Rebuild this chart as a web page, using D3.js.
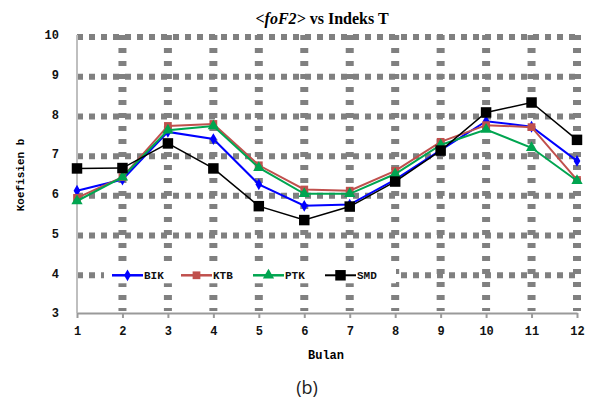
<!DOCTYPE html>
<html>
<head>
<meta charset="utf-8">
<script src="https://cdn.jsdelivr.net/npm/d3@7"></script>
<style>
  body { margin: 0; background: #fff; }
  svg { display: block; }
</style>
</head>
<body>
<script>
// data
const bulan = [1, 2, 3, 4, 5, 6, 7, 8, 9, 10, 11, 12];
const yTicks = [3, 4, 5, 6, 7, 8, 9, 10];
const BIK = [6.08, 6.36, 7.56, 7.38, 6.24, 5.70, 5.73, 6.36, 7.10, 7.83, 7.69, 6.83];
const KTB = [5.90, 6.42, 7.71, 7.76, 6.72, 6.11, 6.08, 6.58, 7.31, 7.73, 7.68, 6.35];
const PTK = [5.82, 6.42, 7.60, 7.71, 6.66, 6.00, 6.00, 6.50, 7.23, 7.62, 7.16, 6.33];
const SMD = [6.64, 6.65, 7.27, 6.64, 5.69, 5.34, 5.68, 6.31, 7.09, 8.05, 8.30, 7.36];

const series = [
  { name: "BIK", values: BIK, color: "#0000ff", marker: "diamond", width: 2 },
  { name: "KTB", values: KTB, color: "#c0504d", marker: "square", width: 2 },
  { name: "PTK", values: PTK, color: "#00a550", marker: "triangle", width: 2 },
  { name: "SMD", values: SMD, color: "#000000", marker: "bigsquare", width: 1.5 }
];

const W = 589, H = 405;
const svg = d3.select("body").append("svg").attr("width", W).attr("height", H);

const x = d3.scaleLinear().domain([1, 12]).range([77, 577]);
const y = d3.scaleLinear().domain([3, 10]).range([313, 35]);

const tickFont = "'Liberation Mono', 'DejaVu Sans Mono', monospace";

// grid - heavy grey dashes
const grid = svg.append("g");
grid.selectAll(".hg")
  .data(yTicks.filter(d => d > 3))
  .enter().append("line")
  .attr("x1", x(1)).attr("x2", x(12) + 4)
  .attr("y1", d => y(d) + 2).attr("y2", d => y(d) + 2)
  .attr("stroke", "#808080").attr("stroke-width", 6)
  .attr("stroke-dasharray", "6,6");
grid.selectAll(".vg")
  .data(bulan.filter(d => d > 1))
  .enter().append("line")
  .attr("x1", d => x(d)).attr("x2", d => x(d))
  .attr("y1", y(10)).attr("y2", y(3) - 2)
  .attr("stroke", "#808080").attr("stroke-width", 8)
  .attr("stroke-dasharray", "5,8");

// axes
svg.append("line")
  .attr("x1", x(1)).attr("x2", x(1)).attr("y1", y(10)).attr("y2", y(3))
  .attr("stroke", "#bfbfbf").attr("stroke-width", 2);
const xAxis = svg.append("g")
  .attr("transform", `translate(0,${y(3)})`)
  .call(d3.axisBottom(x).tickValues(bulan).tickFormat(d3.format("d")).tickSize(5).tickSizeOuter(0).tickPadding(8));
xAxis.select(".domain").attr("stroke", "#9a9a9a").attr("stroke-width", 2);
xAxis.selectAll(".tick line").attr("stroke", "#9a9a9a").attr("stroke-width", 2);
xAxis.selectAll("text").attr("font-family", tickFont).attr("font-weight", "bold")
  .attr("font-size", 12).attr("fill", "#111");

const yAxis = svg.append("g")
  .attr("transform", `translate(${x(1) - 18},0)`)
  .call(d3.axisLeft(y).tickValues(yTicks).tickFormat(d3.format("d")).tickSize(0).tickPadding(0));
yAxis.select(".domain").remove();
yAxis.selectAll("text").attr("font-family", tickFont).attr("font-weight", "bold")
  .attr("font-size", 12).attr("fill", "#111");

// lines
const line = d3.line().x((d, i) => x(bulan[i])).y(d => y(d));
const symbolFor = m => {
  if (m === "diamond") return d3.symbol().type(d3.symbolDiamond).size(40);
  if (m === "square") return d3.symbol().type(d3.symbolSquare).size(60);
  if (m === "triangle") return d3.symbol().type(d3.symbolTriangle).size(55);
  return d3.symbol().type(d3.symbolSquare).size(110);
};

series.forEach(s => {
  svg.append("path").datum(s.values)
    .attr("d", line).attr("fill", "none")
    .attr("stroke", s.color).attr("stroke-width", s.width);
  svg.selectAll(null).data(s.values).enter().append("path")
    .attr("d", symbolFor(s.marker)())
    .attr("transform", (d, i) => `translate(${x(bulan[i])},${y(d)})`)
    .attr("fill", s.color);
});

// legend
const leg = svg.append("g").attr("transform", `translate(0,${y(4) + 2})`);
leg.append("rect").attr("x", 104).attr("y", -8).attr("width", 292).attr("height", 16).attr("fill", "#fff");
const legX = [112, 181, 253, 325];
series.forEach((s, i) => {
  const g = leg.append("g").attr("transform", `translate(${legX[i]},0)`);
  g.append("line").attr("x1", 0).attr("x2", 31).attr("y1", 0).attr("y2", 0)
    .attr("stroke", s.color).attr("stroke-width", s.width + 0.5);
  g.append("path").attr("d", symbolFor(s.marker)()).attr("transform", "translate(15.5,0)").attr("fill", s.color);
  g.append("text").attr("x", 32).attr("y", 4)
    .attr("font-family", tickFont).attr("font-weight", "bold").attr("font-size", 11)
    .attr("fill", "#111").text(s.name);
});

// title
const title = svg.append("text").attr("x", 322).attr("y", 24).attr("text-anchor", "middle")
  .attr("font-family", "'Liberation Serif', serif").attr("font-weight", "bold").attr("font-size", 16);
title.append("tspan").attr("font-style", "italic").text("<foF2>");
title.append("tspan").text(" vs Indeks T");

// axis titles
svg.append("text").attr("x", 326).attr("y", 359).attr("text-anchor", "middle")
  .attr("font-family", tickFont).attr("font-weight", "bold").attr("font-size", 12).text("Bulan");
svg.append("text").attr("transform", "translate(24,175) rotate(-90)").attr("text-anchor", "middle")
  .attr("font-family", tickFont).attr("font-weight", "bold").attr("font-size", 11).text("Koefisien b");

svg.append("text").attr("x", 307).attr("y", 394).attr("text-anchor", "middle")
  .attr("font-family", "'Open Sans', 'Noto Sans', sans-serif").attr("font-size", 18).attr("fill", "#222").text("(b)");
</script>
</body>
</html>
